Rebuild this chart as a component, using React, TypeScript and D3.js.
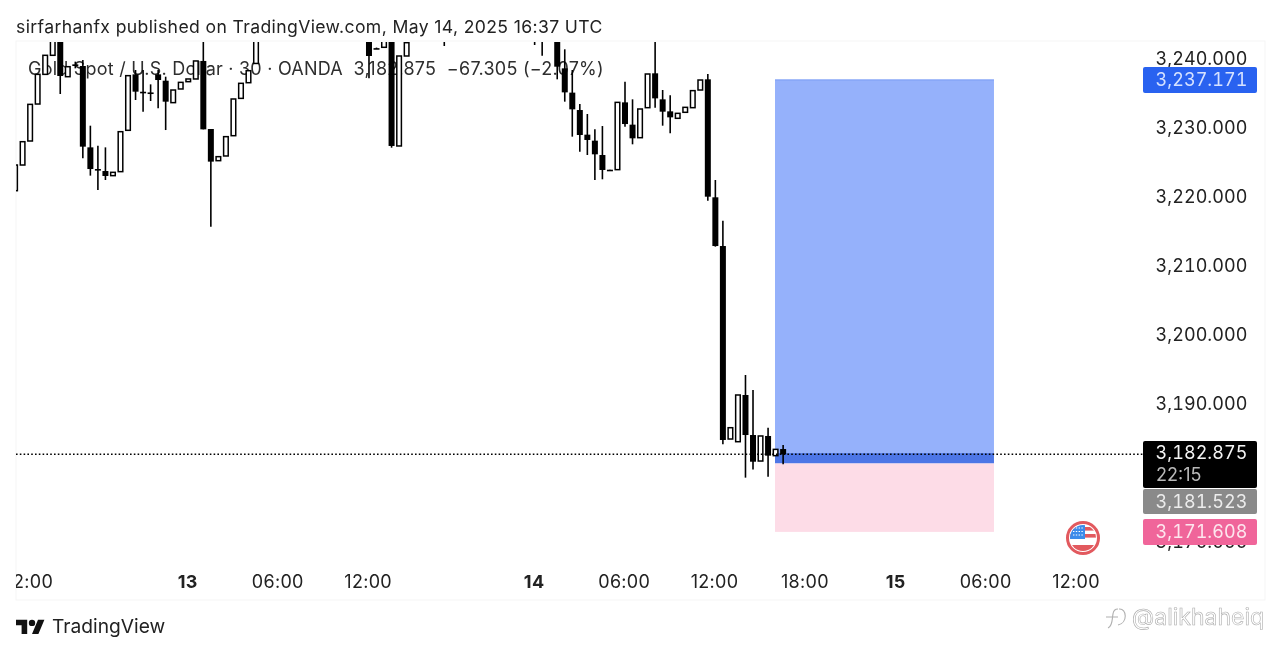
import React from "react";
import * as d3 from "d3";

const barSlots = [-1,0,1,2,3,4,5,6,7,8,9,10,11,12,13,14,15,16,17,18,19,20,21,22,23,24,25,26,27,28,29,30,31,46,47,48,49,50,51,56,68,69,71,72,73,74,75,76,77,78,79,80,81,82,83,84,85,86,87,88,89,90,91,92,93,94,95,96,97,98,99,100,101];
const opens = [3221.06,3224.78,3228.26,3233.62,3237.92,3240.68,3246,3237.58,3239.37,3239.13,3227.34,3224.2,3223.91,3223.24,3223.82,3229.81,3237.92,3235.4,3235.3,3237.92,3237.0,3233.82,3235.8,3236.86,3237.25,3239.86,3230.0,3225.41,3226.09,3229.03,3234.44,3236.71,3239.5,3246,3241.72,3241.84,3246,3227.54,3240.58,3250,3248,3247,3246,3238.79,3235.27,3232.75,3229.18,3228.31,3226.23,3224.1,3224.11,3233.86,3230.63,3228.74,3233.09,3238.07,3234.3,3232.56,3231.55,3232.42,3233.09,3235.65,3237.2,3220.1,3213.04,3185.07,3184.68,3191.45,3185.65,3181.88,3185.51,3182.66,3183.62];
const highs = [3224.78,3228.16,3233.57,3237.92,3240.68,3248,3248,3239.03,3239.76,3240.0,3230.48,3227.58,3227.34,3223.72,3229.61,3237.73,3238.55,3238.55,3236.47,3238.55,3237.58,3235.65,3236.76,3237.25,3239.86,3248,3230.0,3225.99,3228.89,3234.35,3236.62,3238.45,3248,3248,3241.8,3248,3248,3240.58,3242.51,3252,3250,3248,3248,3241.55,3238.55,3233.62,3232.17,3229.95,3230.43,3224.1,3233.86,3236.86,3234.3,3232.9,3237.97,3242.61,3235.65,3234.88,3232.27,3233.14,3235.56,3237.1,3237.97,3222.61,3216.71,3186.71,3191.45,3194.35,3192.17,3185.51,3186.71,3183.57,3184.2];
const lows = [3221.06,3224.78,3228.26,3233.62,3237.92,3240.68,3235.07,3237.58,3238.79,3225.75,3223.24,3221.16,3222.61,3223.24,3223.82,3229.81,3234.2,3232.51,3234.06,3233.0,3229.85,3233.82,3235.8,3236.86,3237.25,3229.95,3215.85,3225.41,3226.09,3229.03,3234.44,3236.71,3239.5,3237.34,3241.6,3241.84,3227.29,3227.54,3240.58,3242.03,3242.17,3240.63,3237.2,3233.96,3228.89,3226.71,3226.23,3222.61,3222.71,3224.0,3224.11,3230.34,3227.78,3228.74,3233.09,3233.09,3230.48,3229.37,3231.55,3232.42,3233.09,3235.65,3219.61,3212.95,3184.3,3185.07,3184.68,3179.47,3180.67,3181.88,3179.61,3182.66,3181.4];
const closes = [3224.78,3228.16,3233.57,3237.92,3240.68,3246,3237.68,3239.03,3239.13,3227.44,3224.2,3224.0,3223.19,3223.72,3229.61,3237.73,3235.41,3235.3,3235.27,3237.1,3233.96,3235.65,3236.76,3237.25,3239.86,3229.95,3225.27,3225.99,3228.89,3234.35,3236.62,3238.45,3246,3240.58,3241.66,3246,3227.54,3240.58,3242.51,3246,3246,3245,3239.03,3235.31,3232.85,3229.13,3228.41,3226.33,3224.06,3224.0,3233.86,3230.72,3228.65,3232.9,3237.97,3234.44,3232.51,3231.69,3232.27,3233.14,3235.56,3237.1,3220.19,3213.04,3184.93,3186.71,3191.45,3185.65,3181.78,3185.51,3182.66,3183.57,3182.85];

const priceTicks = [3240, 3230, 3220, 3210, 3200, 3190, 3170];
const timeTicks = [
  { slot: 1, label: "12:00", bold: false },
  { slot: 22, label: "13", bold: true },
  { slot: 34, label: "06:00", bold: false },
  { slot: 46, label: "12:00", bold: false },
  { slot: 68, label: "14", bold: true },
  { slot: 80, label: "06:00", bold: false },
  { slot: 92, label: "12:00", bold: false },
  { slot: 104, label: "18:00", bold: false },
  { slot: 116, label: "15", bold: true },
  { slot: 128, label: "06:00", bold: false },
  { slot: 140, label: "12:00", bold: false },
];
const lastPrice = 3182.875;
const targetPrice = 3237.171;
const entryPrice = 3181.523;
const stopPrice = 3171.608;
const positionSlots = [100, 129];

const FONT = "Inter, 'Noto Sans', sans-serif";

export default function App() {
  const x = d3.scaleLinear().domain([0, 100]).range([22.6, 775.6]);
  const y = d3.scaleLinear().domain([3240, 3170]).range([60, 543]);
  const fmt = d3.format(",.3f");
  const bodyW = 6;
  const px0 = x(positionSlots[0]) - 0.6;
  const px1 = x(positionSlots[1]);
  const badgeX = 1143;
  const badgeW = 114;
  const axisX = 1201.5;

  const badge = (top: number, h: number, fill: string) => (
    <rect x={badgeX} y={top} width={badgeW} height={h} rx={2} fill={fill} />
  );
  const axisText = (text: string, cy: number, fill: string) => (
    <text x={axisX} y={cy} textAnchor="middle" dominantBaseline="central" fontSize={18} letterSpacing={0.05} style={{ fontVariantNumeric: "tabular-nums" }} fill={fill}>{text}</text>
  );

  return (
    <svg width={1280} height={655} style={{ position: "absolute", left: 0, top: 0, background: "#fff", filter: "blur(0.35px)" }} fontFamily={FONT}>
      <defs>
        <clipPath id="pane"><rect x={16} y={42} width={1127} height={558} /></clipPath>
        <clipPath id="timeAxis"><rect x={16} y={560} width={1127} height={40} /></clipPath>
        <clipPath id="flagClip"><circle cx={1083} cy={538} r={13} /></clipPath>
      </defs>
      <rect x={16} y={41} width={1249} height={559} fill="none" stroke="#f5f5f5" />

      <text x={16} y={33} fontSize={17.6} letterSpacing={0.37} fill="#222">sirfarhanfx published on TradingView.com, May 14, 2025 16:37 UTC</text>
      <text x={28} y={75} fontSize={18} letterSpacing={0.23} fill="#2e2e2e" xmlSpace="preserve">{`Gold Spot / U.S. Dollar · 30 · OANDA  3,182.875  −67.305 (−2.07%)`}</text>

      <g clipPath="url(#pane)">
        <rect x={px0} y={y(targetPrice)} width={px1 - px0} height={y(lastPrice) - y(targetPrice)} fill="#95b1fb" />
        <rect x={px0} y={y(targetPrice)} width={px1 - px0} height={1} fill="#7f9ff5" />
        <rect x={px0} y={y(lastPrice) - 1} width={px1 - px0} height={y(entryPrice) - y(lastPrice) + 1} fill="#4d76e6" />
        <rect x={px0} y={y(entryPrice)} width={px1 - px0} height={y(stopPrice) - y(entryPrice)} fill="#fddce7" />
        {barSlots.map((s, i) => {
          const up = closes[i] >= opens[i];
          const top = y(Math.max(opens[i], closes[i]));
          const bot = y(Math.min(opens[i], closes[i]));
          const cx = x(s);
          return (
            <g key={s}>
              <line x1={cx} x2={cx} y1={y(highs[i])} y2={y(lows[i])} stroke="#000" strokeWidth={1.6} />
              {up ? (
                <rect x={cx - bodyW / 2 + 0.7} y={top} width={bodyW - 1.4} height={Math.max(bot - top, 1)} fill="#fff" stroke="#000" strokeWidth={1.5} />
              ) : (
                <rect x={cx - bodyW / 2} y={top} width={bodyW} height={Math.max(bot - top, 1.6)} fill="#000" />
              )}
            </g>
          );
        })}
        <line x1={16} x2={badgeX} y1={y(lastPrice)} y2={y(lastPrice)} stroke="#000" strokeWidth={1.5} strokeDasharray="1.6 2.2" />
      </g>

      {priceTicks.map((p) => (
        <React.Fragment key={p}>{axisText(fmt(p), y(p) - 1.5, "#222")}</React.Fragment>
      ))}

      {badge(y(targetPrice) - 12.5, 26, "#2962f0")}
      {axisText(fmt(targetPrice), y(targetPrice) - 0.5, "#d6e2ff")}
      {badge(441, 47, "#000")}
      {axisText(fmt(lastPrice), y(lastPrice) - 1.5, "#f4f4f4")}
      <text x={1156} y={474.5} dominantBaseline="central" fontSize={18} fill="#b8b8b8">22:15</text>
      {badge(489, 25, "#8a8a8a")}
      {axisText(fmt(entryPrice), 501, "#ececec")}
      {badge(519, 26, "#f0659a")}
      {axisText(fmt(stopPrice), y(stopPrice) - 0.5, "#fde6ee")}

      <g>
        <circle cx={1083} cy={538} r={15.5} fill="#fff" stroke="#e2595e" strokeWidth={3} />
        <g clipPath="url(#flagClip)">
          <rect x={1070} y={525} width={26} height={26} fill="#fff" />
          <rect x={1070} y={527} width={26} height={3.6} fill="#e2595e" />
          <rect x={1070} y={534} width={26} height={3.6} fill="#e2595e" />
          <rect x={1070} y={545} width={26} height={6} fill="#e2595e" />
          <rect x={1070} y={525} width={15} height={14} fill="#3d8bea" />
          <path d="M1073 528h10M1073 531.5h10M1073 535h10" stroke="#fff" strokeWidth={1.2} strokeDasharray="1.4 1.4" />
        </g>
      </g>

      <g clipPath="url(#timeAxis)">
        {timeTicks.map((t, i) => (
          <text key={i} x={x(t.slot) - (t.bold ? 0.5 : 0.8)} y={581} textAnchor="middle" dominantBaseline="central" fontSize={18} letterSpacing={0.3} fontWeight={t.bold ? 700 : 400} fill="#222">{t.label}</text>
        ))}
      </g>

      <g transform="translate(16,616.5) scale(0.8)" fill="#111">
        <path d="M14 22H7V11H0V4h14v18zM28 22h-8l7.5-18h8L28 22z" />
        <circle cx={20} cy={8} r={4} />
      </g>
      <text x={52} y={633} fontSize={19.2} fill="#222">TradingView</text>

      <g fill="none" stroke="#b0b0b0" strokeWidth={1.1}>
        <path d="M1108 628 C1113 626 1112 618 1113 614 C1113.5 610 1115 609 1118 609 M1106 617 L1118 617" />
        <path d="M1119 609 C1127 608 1128 623 1118 625" />
      </g>
      <text x={1132} y={625} fontSize={23} fill="#fff" stroke="#adadad" strokeWidth={0.6}>@alikhaheiq</text>
    </svg>
  );
}
